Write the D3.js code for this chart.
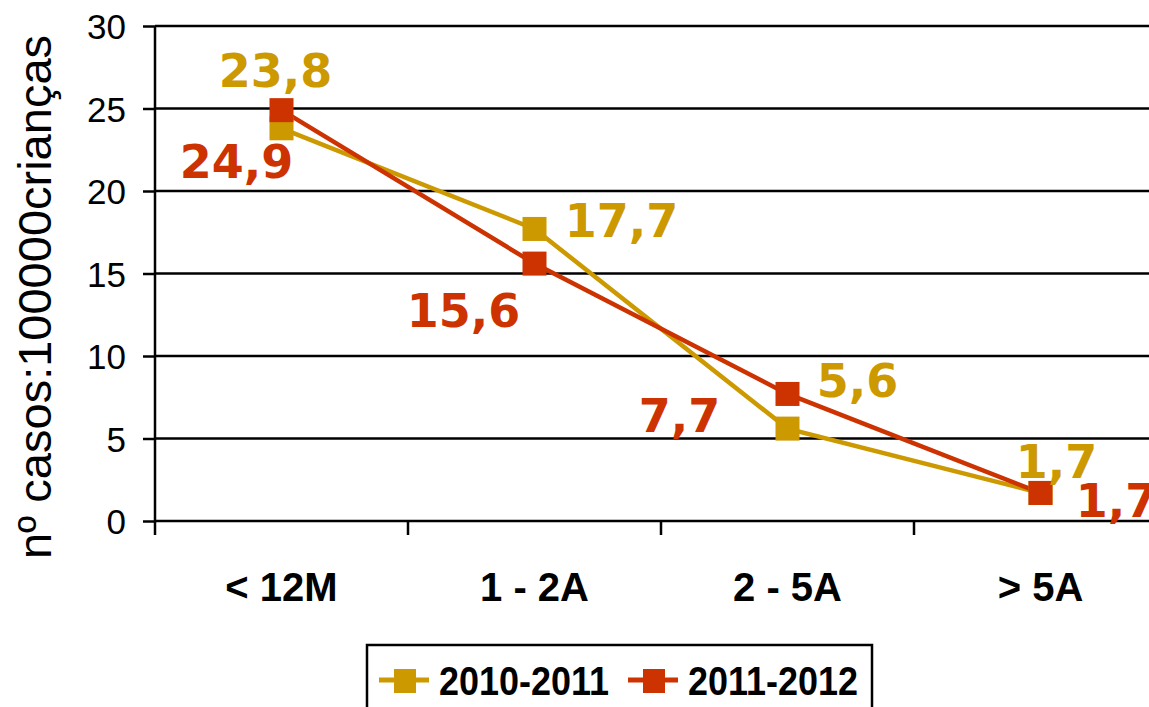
<!DOCTYPE html>
<html>
<head>
<meta charset="utf-8">
<script src="https://cdn.jsdelivr.net/npm/d3@7"></script>
<style>
  html, body { margin: 0; padding: 0; background: #fff; }
  svg { display: block; }
</style>
</head>
<body>
<svg id="chart" width="1149" height="707"></svg>
<script>
const categories = ["< 12M", "1 - 2A", "2 - 5A", "> 5A"];
const seriesNames = ["2010-2011", "2011-2012"];
const values2010 = [23.8, 17.7, 5.6, 1.7];
const values2011 = [24.9, 15.6, 7.7, 1.7];
const yTicks = [0, 5, 10, 15, 20, 25, 30];
const yTitle = "nº casos:100000crianças";
const colors = ["#CC9900", "#CC3300"];
// label offsets (px) relative to each point, as placed in the original
const labelOffsets2010 = [[-6, -41], [87, 8], [70, -32], [16, -15]];
const labelOffsets2011 = [[-45, 68], [-71, 63], [-108, 38], [76, 24]];

(function () {
const svg = d3.select("#chart");
const plotLeft = 155, plotTop = 26, plotBottom = 521, band = 253;

const x = d3.scaleBand().domain(categories).range([plotLeft, plotLeft + band * categories.length]).padding(0);
const y = d3.scaleLinear().domain([0, 30]).range([plotBottom, plotTop]);
const cx = d => x(d) + x.bandwidth() / 2;

// gridlines
svg.append("g").selectAll("line").data(yTicks.filter(t => t > 0)).join("line")
  .attr("x1", plotLeft).attr("x2", 1160)
  .attr("y1", d => y(d)).attr("y2", d => y(d))
  .attr("stroke", "#000").attr("stroke-width", 2.5);

// y axis
const yAxis = svg.append("g").attr("transform", `translate(${plotLeft},0)`)
  .call(d3.axisLeft(y).tickValues(yTicks).tickSize(12).tickPadding(17).tickFormat(d3.format("d")));
yAxis.select(".domain").attr("stroke", "#000").attr("stroke-width", 2.5).attr("d", `M0,${plotTop}V${plotBottom}`);
yAxis.selectAll(".tick line").attr("stroke", "#000").attr("stroke-width", 2.5);
yAxis.selectAll(".tick text").attr("font-family", "'Liberation Sans', Arial, sans-serif")
  .attr("font-size", 35).attr("fill", "#000").attr("dy", "0.36em");

// x axis
const xTickScale = d3.scaleLinear().domain([0, categories.length]).range([plotLeft, plotLeft + band * categories.length]);
const xAxisG = svg.append("g");
xAxisG.append("line").attr("x1", plotLeft).attr("x2", 1160).attr("y1", plotBottom).attr("y2", plotBottom)
  .attr("stroke", "#000").attr("stroke-width", 2.5);
xAxisG.selectAll("line.tk").data(d3.range(categories.length)).join("line").attr("class", "tk")
  .attr("x1", d => xTickScale(d)).attr("x2", d => xTickScale(d))
  .attr("y1", plotBottom).attr("y2", plotBottom + 14)
  .attr("stroke", "#000").attr("stroke-width", 2.5);
xAxisG.selectAll("text").data(categories).join("text")
  .attr("x", d => cx(d)).attr("y", 601)
  .attr("text-anchor", "middle")
  .attr("font-family", "'Liberation Sans', Arial, sans-serif")
  .attr("font-weight", "bold").attr("font-size", 40).attr("fill", "#000")
  .text(d => d);

// y title
svg.append("text")
  .attr("transform", `translate(51,297) rotate(-90)`)
  .attr("text-anchor", "middle")
  .attr("font-family", "'Liberation Sans', Arial, sans-serif")
  .attr("font-size", 47).attr("fill", "#000")
  .text(yTitle);

// series
const line = d3.line().x((d, i) => cx(categories[i])).y(d => y(d));
const allSeries = [values2010, values2011];
const allOffsets = [labelOffsets2010, labelOffsets2011];
allSeries.forEach((vals, s) => {
  svg.append("path").datum(vals).attr("d", line)
    .attr("fill", "none").attr("stroke", colors[s]).attr("stroke-width", 4.5);
});
allSeries.forEach((vals, s) => {
  svg.append("g").selectAll("rect").data(vals).join("rect")
    .attr("x", (d, i) => cx(categories[i]) - 12).attr("y", d => y(d) - 12)
    .attr("width", 24).attr("height", 24).attr("fill", colors[s]);
});
allSeries.forEach((vals, s) => {
  svg.append("g").selectAll("text").data(vals).join("text")
    .attr("x", (d, i) => cx(categories[i]) + allOffsets[s][i][0])
    .attr("y", (d, i) => y(d) + allOffsets[s][i][1])
    .attr("text-anchor", "middle")
    .attr("font-family", "'DejaVu Sans', Verdana, sans-serif")
    .attr("font-weight", "bold").attr("font-size", 46).attr("fill", colors[s])
    .text(d => d3.format(".1f")(d).replace(".", ","));
});

// legend
const lg = svg.append("g");
lg.append("rect").attr("x", 367).attr("y", 645).attr("width", 505).attr("height", 80)
  .attr("fill", "#fff").attr("stroke", "#000").attr("stroke-width", 2.5);
const legX = [379, 628];
seriesNames.forEach((name, s) => {
  const g = lg.append("g").attr("transform", `translate(${legX[s]},0)`);
  g.append("line").attr("x1", 0).attr("x2", 50).attr("y1", 680).attr("y2", 680)
    .attr("stroke", colors[s]).attr("stroke-width", 5);
  g.append("rect").attr("x", 15).attr("y", 669).attr("width", 22).attr("height", 24).attr("fill", colors[s]);
  g.append("text").attr("x", 60).attr("y", 695)
    .attr("font-family", "'Liberation Sans', Arial, sans-serif")
    .attr("font-weight", "bold").attr("font-size", 41).attr("fill", "#000")
    .attr("textLength", 170).attr("lengthAdjust", "spacingAndGlyphs")
    .text(name);
});
})();
</script>
</body>
</html>
